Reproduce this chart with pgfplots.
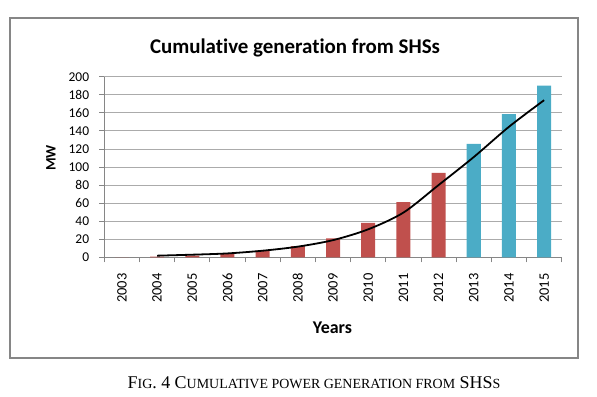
\documentclass[border=0pt]{standalone}
\usepackage{pgfplots}
\pgfplotsset{compat=1.18}
\usepackage{fontspec}
\setmainfont{Carlito}[Ligatures={NoCommon}]
\newfontfamily\timesfont{Liberation Serif}
\definecolor{barred}{HTML}{C0504D}
\definecolor{barblue}{HTML}{4BACC6}
\definecolor{gridgray}{HTML}{ABABAB}
\definecolor{framegray}{HTML}{868686}
\begin{document}
\begin{tikzpicture}[x=1bp,y=1bp]
\useasboundingbox (0,0) rectangle (597,396);
\draw[framegray, line width=2bp] (10,378) rectangle (578,38);
\begin{axis}[
  at={(104.3bp,138.7bp)}, anchor=south west,
  scale only axis, width=457.4bp, height=180.6bp,
  xmin=-0.5, xmax=12.5, ymin=0, ymax=200,
  axis x line*=bottom, axis y line*=left,
  axis line style={framegray, line width=0.8bp},
  ytick={0,20,...,200},
  ymajorgrids, grid style={gridgray, line width=0.8bp},
  xtick={0,...,12},
  xticklabels={2003,2004,2005,2006,2007,2008,2009,2010,2011,2012,2013,2014,2015},
  minor xtick={-0.5,0.5,...,12.5},
  tick align=outside,
  major tick length=5bp, minor tick length=5bp,
  major x tick style={draw=none},
  every tick/.style={framegray, line width=0.8bp},
  minor tick style={framegray, line width=0.8bp},
  y tick style={framegray, line width=0.8bp},
  yticklabel style={font=\fontsize{13.5}{13.5}\selectfont, inner sep=1bp, xshift=-9bp},
  xticklabel style={font=\fontsize{14.5}{14.5}\selectfont, yshift=-10bp, rotate=90, anchor=east, inner sep=1bp},
  /pgf/number format/assume math mode=true,
  clip=false,
]
\addplot[ybar, bar width=14bp, bar shift=0pt, fill=barred, draw=none]
  coordinates {(0,0) (1,0.8) (2,1.8) (3,4.2) (4,7.3) (5,12.5) (6,21) (7,38) (8,61) (9,93.5)};
\addplot[ybar, bar width=14bp, bar shift=0pt, fill=barblue, draw=none]
  coordinates {(10,125.5) (11,158.5) (12,190)};
\addplot[black, line width=1.8bp, smooth]
  coordinates {(1,1.8) (2,2.9) (3,4.3) (4,7.3) (5,11.8) (6,19) (7,31) (8,49.5) (9,80) (10,111) (11,144.5) (12,174)};
\end{axis}
\node[font=\bfseries\fontsize{21}{21}\selectfont, anchor=base] at (295,396-53) {Cumulative generation from SHSs};
\node[font=\bfseries\fontsize{14.5}{14.5}\selectfont, rotate=90] at (51,396-158) {MW};
\node[font=\bfseries\fontsize{18}{18}\selectfont, anchor=base] at (332.5,396-333) {Years};
\node[anchor=base] at (314,396-388) {\timesfont\fontsize{18}{18}\selectfont F{\fontsize{14}{14}\selectfont IG}. 4 C{\fontsize{14}{14}\selectfont UMULATIVE POWER GENERATION FROM} SHS{\fontsize{14}{14}\selectfont S}};
\end{tikzpicture}
\end{document}
